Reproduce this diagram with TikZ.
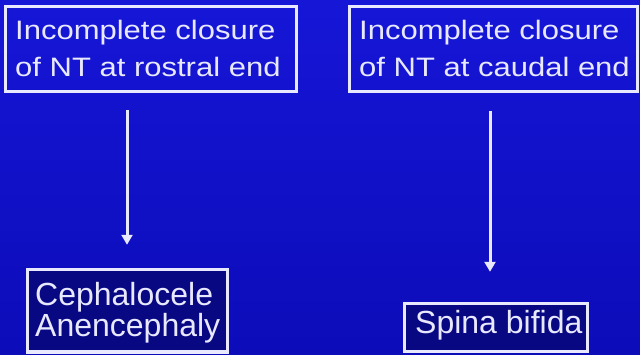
\documentclass[tikz,border=0pt]{standalone}
\usepackage{fontspec}
\setmainfont{Liberation Sans}
\usetikzlibrary{arrows.meta}
\definecolor{bgtop}{RGB}{22,22,215}
\definecolor{bgmid}{RGB}{28,28,255}
\definecolor{bgbot}{RGB}{12,12,185}
\definecolor{boxfill}{RGB}{8,8,130}
\definecolor{ink}{RGB}{232,232,255}
\tikzset{
  box/.style={draw=ink, line width=3.5pt, inner sep=0pt, outer sep=1.75pt},
  lowbox/.style={box, fill=boxfill},
  toptext/.style={text=ink, inner sep=0pt, anchor=base west, font=\fontsize{31}{31}\selectfont},
  lowtext/.style={text=ink, inner sep=0pt, anchor=base west, font=\fontsize{32}{32}\selectfont},
  arr/.style={draw=ink, line width=3pt, -{Triangle[width=11pt,length=10pt]}}
}
\newcommand{\sq}[1]{\scalebox{1}[0.86]{#1}}
\begin{document}
\begin{tikzpicture}[x=1pt,y=-1pt]
\useasboundingbox (0,0) rectangle (640,354);
\shade[top color=bgtop, middle color=bgmid, bottom color=bgbot] (0,0) rectangle (640,354);
% boxes
\node[box, minimum width=291pt, minimum height=85pt] (b1) at (151,49) {};
\node[box, minimum width=288pt, minimum height=85pt] (b2) at (493.5,49) {};
\node[lowbox, minimum width=200pt, minimum height=82.5pt] (b3) at (127.5,310.75) {};
\node[lowbox, minimum width=183pt, minimum height=48pt] (b4) at (496,327.5) {};
% texts
\node[toptext] (t1a) at (15,39.3) {\sq{Incomplete closure}};
\node[toptext] (t1b) at (15,76) {\sq{of NT at rostral end}};
\node[toptext] (t2a) at (359,39.3) {\sq{Incomplete closure}};
\node[toptext] (t2b) at (359,76) {\sq{of NT at caudal end}};
\node[lowtext] (t3a) at (35,305) {Cephalocele};
\node[lowtext] (t3b) at (35,336) {Anencephaly};
\node[lowtext] (t4) at (415,333) {Spina bifida};
% arrows
\coordinate (x1) at (127,0);
\coordinate (x2) at (490,0);
\draw[arr, shorten <=17pt, shorten >=23pt] (b1.south -| x1) -- (b3.north -| x1);
\draw[arr, shorten <=18pt, shorten >=30pt] (b2.south -| x2) -- (b4.north -| x2);
\end{tikzpicture}
\end{document}
